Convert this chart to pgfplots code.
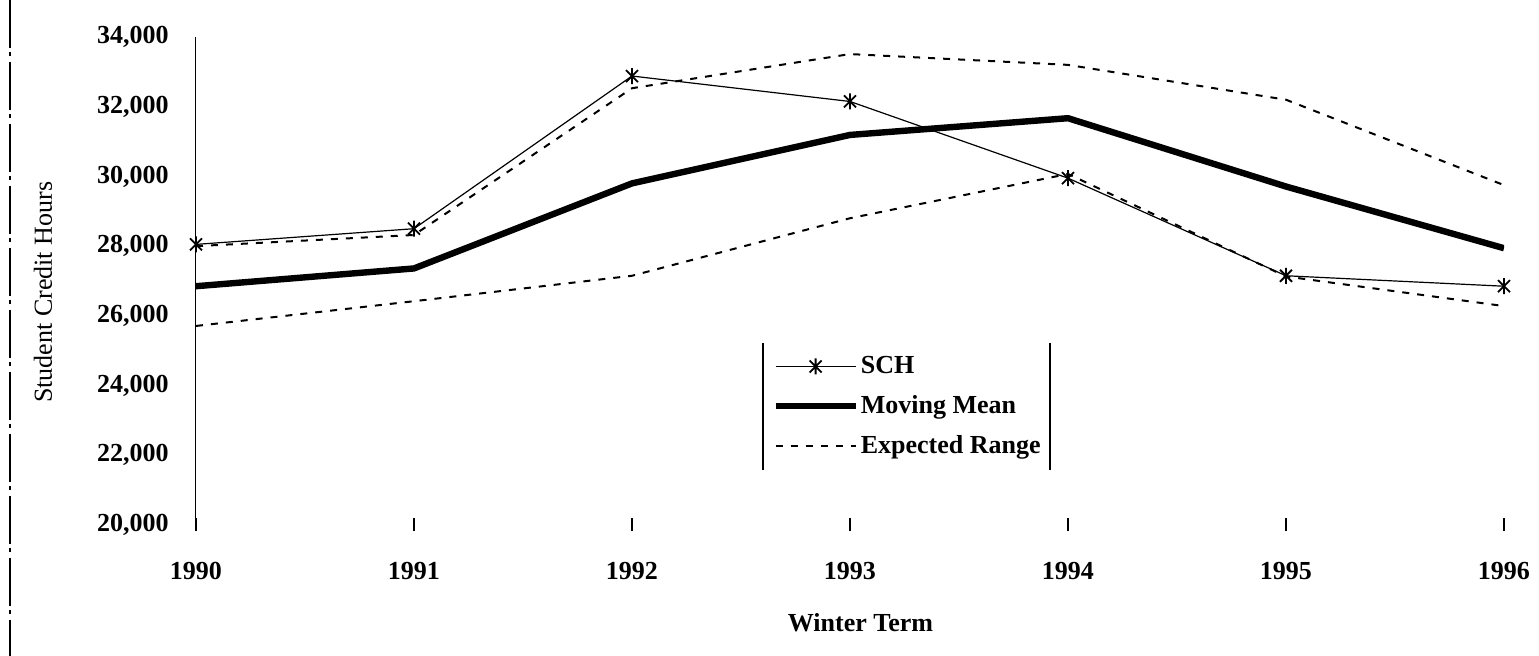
\documentclass[border=0pt]{standalone}
\usepackage{pgfplots}
\pgfplotsset{compat=1.18}
\usepackage{pgfplotstable}
\usepackage{fontspec}
\setmainfont{Liberation Serif}
\newcommand\chartfont{\fontsize{13}{15.6}\selectfont}

% star marker: an x with a vertical bar through it
\pgfdeclareplotmark{xstar}{%
  \pgfpathmoveto{\pgfqpoint{0pt}{\pgfplotmarksize}}%
  \pgfpathlineto{\pgfqpoint{0pt}{-\pgfplotmarksize}}%
  \pgfpathmoveto{\pgfqpoint{-0.75\pgfplotmarksize}{0.75\pgfplotmarksize}}%
  \pgfpathlineto{\pgfqpoint{0.75\pgfplotmarksize}{-0.75\pgfplotmarksize}}%
  \pgfpathmoveto{\pgfqpoint{-0.75\pgfplotmarksize}{-0.75\pgfplotmarksize}}%
  \pgfpathlineto{\pgfqpoint{0.75\pgfplotmarksize}{0.75\pgfplotmarksize}}%
  \pgfusepathqstroke}

% Winter term student credit hours
\pgfplotstableread{
year sch   mean  upper lower
1990 28050 26850 28000 25710
1991 28500 27360 28320 26420
1992 32880 29800 32530 27150
1993 32150 31190 33510 28800
1994 29950 31670 33200 30070
1995 27150 29710 32200 27130
1996 26850 27940 29750 26280
}\schdata

\begin{document}
\begin{tikzpicture}
\useasboundingbox (-98pt,-65.5pt) rectangle (671.5pt,262.5pt);
% scan edge on the left
\draw[line width=0.6pt, dash pattern=on 24pt off 2pt on 2pt off 3pt] (-93pt,262.5pt) -- (-93pt,-65.5pt);
\begin{axis}[
  at={(0pt,0pt)}, anchor=south west,
  scale only axis,
  width=654pt, height=244pt,
  xmin=1990, xmax=1996,
  ymin=20000, ymax=34000,
  xtick={1990,...,1996},
  ytick={20000,22000,...,34000},
  scaled ticks=false,
  axis y line*=left,
  axis x line*=bottom,
  x axis line style={draw=none},
  y axis line style={line width=0.5pt, -},
  xtick align=center,
  ytick align=inside,
  major tick length=6.5pt,
  xtick style={line width=0.7pt, black},
  ytick style={draw=none},
  tick label style={font=\chartfont\bfseries},
  /pgf/number format/assume math mode=true,
  xticklabel style={/pgf/number format/1000 sep={}, yshift=-12pt},
  yticklabel style={/pgf/number format/fixed, /pgf/number format/1000 sep={,}, xshift=-10.2pt},
  xlabel={Winter Term},
  ylabel={Student Credit Hours},
  xlabel style={font=\chartfont\bfseries, at={(axis description cs:0.508,-0.2008)}, anchor=center},
  ylabel style={font=\chartfont, at={(axis description cs:-0.117,0.477)}, anchor=center},
  legend style={at={(axis description cs:0.4335,0.373)}, anchor=north west,
    draw=none, fill=none, font=\chartfont\bfseries,
    inner xsep=4.5pt, inner ysep=4.5pt, row sep=5.5pt,
    nodes={inner xsep=1pt, inner ysep=2pt}},
  legend cell align=left,
  legend image code/.code={\draw[mark repeat=2, mark phase=2, #1] plot coordinates {(0pt,0pt) (20pt,0pt) (40pt,0pt)};},
]
\addplot[black, line width=0.6pt, mark=xstar, mark size=4pt, mark options={solid, line width=0.9pt}] table[x=year, y=sch] {\schdata};
\addlegendentry{SCH}
\addplot[black, line width=3.2pt, line join=round] table[x=year, y=mean] {\schdata};
\addlegendentry{Moving Mean}
\addplot[black, line width=1pt, dash pattern=on 3.5pt off 4pt] table[x=year, y=upper] {\schdata};
\addlegendentry{Expected Range}
\addplot[black, line width=1pt, dash pattern=on 3.5pt off 4pt, forget plot] table[x=year, y=lower] {\schdata};
% legend frame: only the two sides show
\draw[line width=0.6pt] (axis description cs:0.4335,0.373) -- (axis description cs:0.4335,0.113);
\draw[line width=0.6pt] (axis description cs:0.6529,0.373) -- (axis description cs:0.6529,0.113);
\end{axis}
\end{tikzpicture}
\end{document}
